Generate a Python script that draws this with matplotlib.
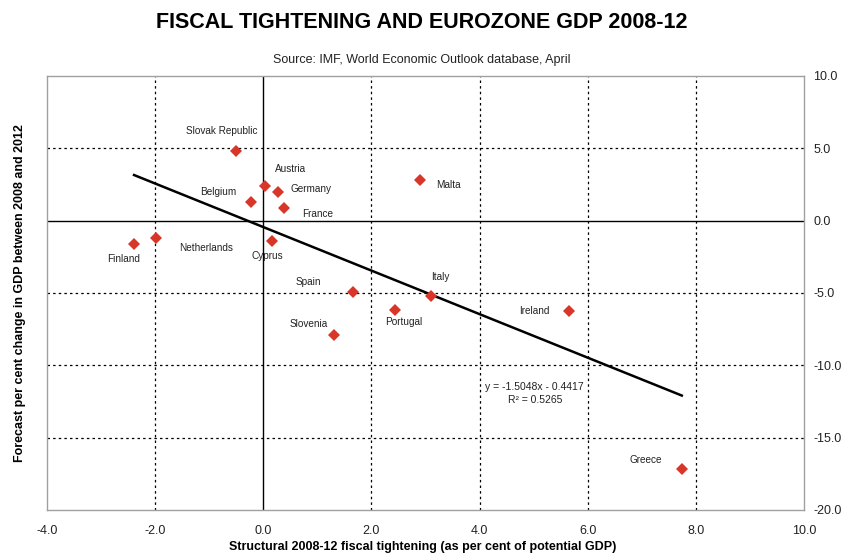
import matplotlib
matplotlib.use("Agg")
import matplotlib.pyplot as plt

plt.rcParams['font.family'] = ["Liberation Sans", "DejaVu Sans"]

countries = ["Slovak Republic", "Austria", "Germany", "France", "Belgium",
             "Netherlands", "Finland", "Cyprus", "Malta", "Spain", "Italy",
             "Slovenia", "Portugal", "Ireland", "Greece"]
tightening = [-0.50, 0.03, 0.27, 0.38, -0.23, -1.98, -2.39, 0.16, 2.90,
              1.66, 3.10, 1.31, 2.44, 5.65, 7.74]
gdp_change = [4.82, 2.40, 1.98, 0.88, 1.29, -1.20, -1.61, -1.40, 2.81,
              -4.94, -5.23, -7.87, -6.20, -6.25, -17.2]

slope = -1.5048
intercept = -0.4417
r_squared = 0.5265

x_ticks = [-4, -2, 0, 2, 4, 6, 8, 10]
y_ticks = [10, 5, 0, -5, -10, -15, -20]

# label offsets from each marker, in pixels (x right, y up)
label_offsets = {
    "Slovak Republic": (-14, 20), "Austria": (26, 17), "Germany": (33, 3),
    "France": (34, -6), "Belgium": (-33, 10), "Netherlands": (50, -10),
    "Finland": (-10, -15), "Cyprus": (-5, -15), "Malta": (28, -5),
    "Spain": (-45, 10), "Italy": (9, 19), "Slovenia": (-25, 11),
    "Portugal": (9, -12), "Ireland": (-34, 0), "Greece": (-36, 9),
}

W, H = 844, 557
fig = plt.figure(figsize=(W / 100, H / 100), dpi=100)
ax = fig.add_axes([47 / W, 1 - 510 / H, (804 - 47) / W, (510 - 76) / H])

ax.set_xlim(-4, 10)
ax.set_ylim(-20, 10)

for gx in [-2, 2, 4, 6, 8]:
    ax.axvline(gx, color="black", lw=0.9, ls=(0, (2, 2.5)), zorder=1)
for gy in [5, -5, -10, -15]:
    ax.axhline(gy, color="black", lw=0.9, ls=(0, (2, 2.5)), zorder=1)
ax.axvline(0, color="black", lw=1.0, zorder=1)
ax.axhline(0, color="black", lw=1.0, zorder=1)

# linear trend drawn across the range of the data
x0, x1 = min(tightening), max(tightening)
ax.plot([x0, x1], [slope * x0 + intercept, slope * x1 + intercept],
        color="black", lw=1.8, zorder=2)

ax.plot(tightening, gdp_change, ls="none", marker="D", markersize=6.5,
        color="#d9362a", markeredgewidth=0, zorder=3)

for name, x, y in zip(countries, tightening, gdp_change):
    dx, dy = label_offsets[name]
    ax.annotate(name, (x, y), xytext=(dx * 0.72, dy * 0.72),
                textcoords="offset points", ha="center", va="center",
                fontsize=7.2, color="#222222")

ax.text(5.02, -11.49, f"y = {slope:.4f}x - {abs(intercept):.4f}",
        ha="center", va="center", fontsize=7.5, color="#222222")
ax.text(5.02, -12.42, f"R² = {r_squared:.4f}",
        ha="center", va="center", fontsize=7.5, color="#222222")

for s in ax.spines.values():
    s.set_color("#a0a0a0")
    s.set_linewidth(1.0)

ax.set_xticks(x_ticks)
ax.set_xticklabels([f"{v:.1f}" for v in x_ticks], fontsize=9)
ax.set_yticks(y_ticks)
ax.set_yticklabels([f"{v:.1f}" for v in y_ticks], fontsize=9)
ax.yaxis.tick_right()
ax.tick_params(axis="both", length=0, colors="#222222")
ax.tick_params(axis="x", pad=10.5)
ax.tick_params(axis="y", pad=6.5)

fig.text(423 / W, 1 - 547 / H,
         "Structural 2008-12 fiscal tightening (as per cent of potential GDP)",
         ha="center", va="center", fontsize=9, fontweight="bold")
fig.text(20 / W, 1 - 293 / H,
         "Forecast per cent change in GDP between 2008 and 2012",
         rotation=90, ha="center", va="center", fontsize=9, fontweight="bold")

fig.text(422 / W, 1 - 22 / H, "FISCAL TIGHTENING AND EUROZONE GDP 2008-12",
         ha="center", va="center", fontsize=15.5, fontweight="bold")
fig.text(422 / W, 1 - 60 / H, "Source: IMF, World Economic Outlook database, April",
         ha="center", va="center", fontsize=9, color="#222222")

fig.savefig("out.png", dpi=100, facecolor="white")
